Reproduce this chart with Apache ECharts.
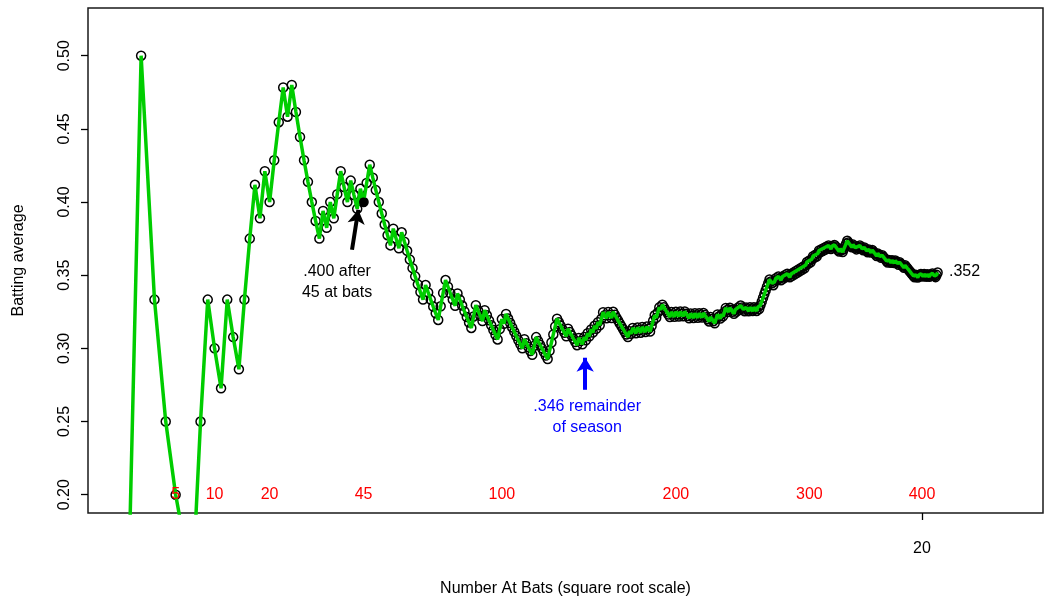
<!DOCTYPE html>
<html><head><meta charset="utf-8">
<script src="https://cdn.jsdelivr.net/npm/echarts@6/dist/echarts.min.js"></script>
<style>html,body{margin:0;padding:0;background:#fff}#c{width:1050px;height:606px}</style>
</head><body><div id="c"></div>
<script>
// Cumulative hits after each at bat (at bat number = position + 1)
const cumulativeHits = [
  0,1,1,1,1,1,1,2,3,3,
  3,4,4,4,5,6,7,7,8,8,
  9,10,11,11,12,12,12,12,12,12,
  12,12,13,13,14,14,15,16,16,16,
  17,17,17,18,18,19,20,20,20,20,
  20,20,20,20,21,21,21,22,22,22,
  22,22,22,22,22,22,23,23,23,23,
  23,23,24,25,26,26,26,26,26,27,
  27,27,27,27,27,27,28,29,29,29,
  29,30,30,30,30,30,30,30,31,32,
  32,33,33,33,33,33,33,33,33,33,
  34,34,34,34,34,35,36,36,36,36,
  36,36,36,37,38,39,40,41,41,41,
  41,41,41,42,42,42,42,42,42,43,
  43,43,44,44,45,45,46,46,47,47,
  48,48,49,50,50,50,51,51,51,52,
  52,52,52,52,52,52,52,52,52,53,
  53,54,54,54,55,55,55,56,56,56,
  57,57,57,58,59,60,60,61,62,62,
  63,63,63,63,63,63,64,64,64,65,
  65,65,66,66,66,67,67,67,67,68,
  68,68,69,69,69,70,70,70,71,71,
  71,71,71,72,72,72,72,73,74,74,
  74,75,75,76,77,77,77,78,78,78,
  78,79,79,80,80,81,81,81,81,82,
  82,82,83,83,83,84,84,84,85,85,
  86,87,88,89,90,91,92,93,93,93,
  93,94,95,95,96,96,96,97,97,98,
  98,99,99,99,100,100,101,101,102,102,
  103,103,104,104,105,105,106,107,107,108,
  108,109,110,110,111,111,112,113,113,114,
  114,115,115,116,116,117,117,117,118,118,
  119,119,119,119,119,120,120,120,121,122,
  123,124,124,124,124,124,125,125,125,125,
  126,126,127,127,127,127,128,128,128,128,
  129,129,129,130,130,130,130,130,131,131,
  131,131,132,132,132,132,132,132,133,133,
  133,134,134,134,135,135,135,135,136,136,
  136,136,136,137,137,137,137,137,137,137,
  137,137,137,138,138,138,139,139,140,140,
  140,141,141,141,142,142,142,143,143,144,
  144,144,144,145,146
];
const milestoneAtBats = [5, 10, 20, 45, 100, 200, 300, 400];
const yTickValues = [0.20, 0.25, 0.30, 0.35, 0.40, 0.45, 0.50];
const xTickValues = [20];
const highlightAtBat = 45;
const finalLabel = '.352';
const earlyNote = '.400 after\n45 at bats';
const restNote = '.346 remainder\nof season';

const pts = cumulativeHits.map((h, i) => [Math.sqrt(i + 1), h / (i + 1)]);
const hl = pts[highlightAtBat - 1];
const FONT = 'Liberation Sans, Arial, sans-serif';

const chart = echarts.init(document.getElementById('c'), null, {renderer: 'canvas'});
chart.setOption({
  animation: false,
  backgroundColor: '#fff',
  textStyle: {fontFamily: FONT},
  grid: {left: 88, right: 7, top: 8, bottom: 93, show: true, borderColor: '#1a1a1a', borderWidth: 1.5, backgroundColor: 'transparent'},
  xAxis: {
    type: 'value', min: 0.15, max: 22.88,
    name: 'Number At Bats (square root scale)', nameLocation: 'middle', nameGap: 68,
    nameTextStyle: {fontSize: 16, color: '#000', fontFamily: FONT},
    axisLine: {show: false},
    splitLine: {show: false},
    axisTick: {show: true, length: 7, lineStyle: {color: '#000', width: 1.3}, customValues: xTickValues},
    axisLabel: {show: true, margin: 28, fontSize: 16, color: '#000', fontFamily: FONT, customValues: xTickValues, formatter: v => String(Math.round(v))}
  },
  yAxis: {
    type: 'value', min: 0.1875, max: 0.5326,
    name: 'Batting average', nameLocation: 'middle', nameGap: 61,
    nameTextStyle: {fontSize: 16, color: '#000', fontFamily: FONT},
    axisLine: {show: false},
    splitLine: {show: false},
    axisTick: {show: true, length: 7, lineStyle: {color: '#000', width: 1.3}, customValues: yTickValues},
    axisLabel: {show: true, rotate: 90, margin: 15, fontSize: 16, color: '#000', fontFamily: FONT, customValues: yTickValues, formatter: v => v.toFixed(2)}
  },
  series: [
    {
      type: 'scatter', data: pts, symbol: 'circle', symbolSize: 9, z: 2, silent: true,
      itemStyle: {color: 'rgba(0,0,0,0)', borderColor: '#000', borderWidth: 1.5, opacity: 1}
    },
    {
      type: 'line', data: pts, showSymbol: false, z: 3, silent: true,
      lineStyle: {color: '#00cd00', width: 3.5}
    },
    {
      type: 'scatter', data: [hl], symbol: 'circle', symbolSize: 9, z: 4, silent: true,
      itemStyle: {color: '#000', opacity: 1}
    },
    {
      type: 'scatter', z: 5, silent: true, symbolSize: 0,
      itemStyle: {opacity: 1},
      data: milestoneAtBats.map(n => ({value: [Math.sqrt(n), 0.2], name: String(n)})),
      label: {show: true, position: 'inside', formatter: p => p.name, color: '#ff0000', opacity: 1, fontSize: 16, fontFamily: FONT}
    },
    {
      type: 'scatter', z: 6, silent: true, symbolSize: 0,
      itemStyle: {opacity: 1},
      data: [
        {value: [6.078, 0.3455], name: earlyNote, label: {color: '#000'}},
        {value: [12.031, 0.2532], name: restNote, label: {color: '#0000ff'}},
        {value: [20.642, 0.3524], name: finalLabel, label: {color: '#000', align: 'left'}}
      ],
      label: {show: true, position: 'inside', opacity: 1, formatter: p => p.name, fontSize: 16, lineHeight: 21, fontFamily: FONT},
      markLine: {
        silent: true, animation: false, symbol: ['none', 'arrow'], symbolSize: [13, 14],
        label: {show: false},
        data: [
          [{coord: [6.434, 0.3674], lineStyle: {color: '#000', width: 4, type: 'solid', opacity: 1}}, {coord: [6.584, 0.3947]}],
          [{coord: [11.984, 0.2717], lineStyle: {color: '#0000ff', width: 4, type: 'solid', opacity: 1}}, {coord: [11.984, 0.2936]}]
        ]
      }
    }
  ]
});
</script>
</body></html>
